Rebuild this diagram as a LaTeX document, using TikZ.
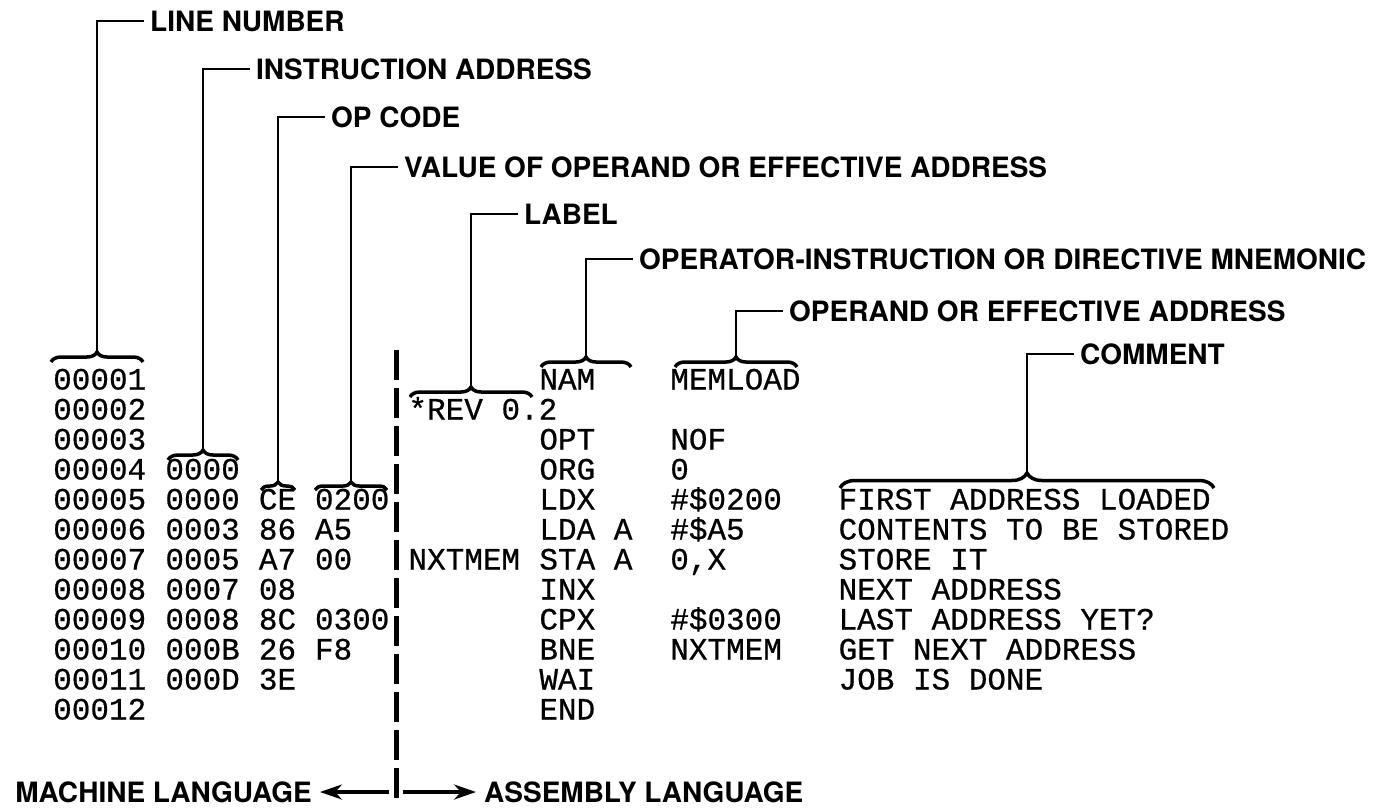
\documentclass[tikz,border=0pt]{standalone}
\usepackage{fontspec}
\setmainfont{TeX Gyre Heros}
\newfontfamily\lstfont[FakeBold=0.6]{Liberation Mono}
\usetikzlibrary{arrows.meta, decorations.pathreplacing}

\begin{document}
\begin{tikzpicture}[
    x=1pt, y=-1pt,
    tag/.style={font=\fontsize{28}{30}\selectfont\bfseries, anchor=west, inner xsep=6pt, inner ysep=0pt},
    lst/.style={font=\lstfont\fontsize{31}{33}\selectfont, anchor=base west, inner sep=0pt},
    brc/.style={decorate, decoration={brace, amplitude=#1}, line width=3.5pt},
    brc/.default=10pt,
    lead/.style={line width=2.2pt},
    side/.style={-{Stealth[length=22pt, width=15pt]}, line width=4pt}
]
\useasboundingbox (0,0) rectangle (1399,809);

% Listing (column c at x = 53 + 18.7 c, row r baseline at 389.5 + 30 (r-1))
\foreach \r in {1,...,12}
  \node[lst] (ln\r) at (53, {389.5+30*(\r-1)}) {\ifnum\r<10 0000\r\else 000\r\fi};
\foreach \r/\t in {4/0000, 5/0000, 6/0003, 7/0005, 8/0007, 9/0008, 10/000B, 11/000D}
  \node[lst] (ad\r) at (165.2, {389.5+30*(\r-1)}) {\t};
\foreach \r/\t in {5/CE, 6/86, 7/A7, 8/08, 9/8C, 10/26, 11/3E}
  \node[lst] (op\r) at (258.7, {389.5+30*(\r-1)}) {\t};
\foreach \r/\t in {5/0200, 6/A5, 7/00, 9/0300, 10/F8}
  \node[lst] (va\r) at (314.8, {389.5+30*(\r-1)}) {\t};
\foreach \r/\t in {2/*REV 0.2, 7/NXTMEM}
  \node[lst] (lb\r) at (408.3, {389.5+30*(\r-1)}) {\t};
\foreach \r/\t in {1/NAM, 3/OPT, 4/ORG, 5/LDX, 6/LDA A, 7/STA A, 8/INX, 9/CPX, 10/BNE, 11/WAI, 12/END}
  \node[lst] (mn\r) at (539.2, {389.5+30*(\r-1)}) {\t};
\foreach \r/\t in {1/MEMLOAD, 3/NOF, 4/0, 5/\#\$0200, 6/\#\$A5, 7/{0,X}, 9/\#\$0300, 10/NXTMEM}
  \node[lst] (od\r) at (670.1, {389.5+30*(\r-1)}) {\t};
\foreach \r/\t in {5/FIRST ADDRESS LOADED, 6/CONTENTS TO BE STORED, 7/STORE IT, 8/NEXT ADDRESS,
                   9/LAST ADDRESS YET?, 10/GET NEXT ADDRESS, 11/JOB IS DONE}
  \node[lst] (cm\r) at (838.4, {389.5+30*(\r-1)}) {\t};

% Braces over the fields
\draw[brc] (51,362) -- (143,362);   \coordinate (tLn) at (97,352);
\draw[brc] (168,460) -- (238,460);  \coordinate (tAd) at (203,450);
\draw[brc=8pt] (261,490) -- (295,490); \coordinate (tOp) at (278,482);
\draw[brc=8pt] (315,490) -- (387,490); \coordinate (tVa) at (351,482);
\draw[brc] (410,397) -- (532,397);  \coordinate (tLb) at (471,387);
\draw[brc] (541,367) -- (631,367);  \coordinate (tMn) at (586,357);
\draw[brc] (675,367) -- (797,367);  \coordinate (tOd) at (736,357);
\draw[brc=15pt] (840,488) -- (1214,488); \coordinate (tCm) at (1027,473);

% Field names
\node[tag] (gLn) at (144,21)  {LINE NUMBER};
\node[tag] (gAd) at (250,69)  {INSTRUCTION ADDRESS};
\node[tag] (gOp) at (325,117) {OP CODE};
\node[tag] (gVa) at (398,167) {VALUE OF OPERAND OR EFFECTIVE ADDRESS};
\node[tag] (gLb) at (518,214) {LABEL};
\node[tag] (gMn) at (633,259) {OPERATOR-INSTRUCTION OR DIRECTIVE MNEMONIC};
\node[tag] (gOd) at (783,311) {OPERAND OR EFFECTIVE ADDRESS};
\node[tag] (gCm) at (1074,354) {COMMENT};

\draw[lead] (tLn) |- (gLn.west);
\draw[lead] (tAd) |- (gAd.west);
\draw[lead] (tOp) |- (gOp.west);
\draw[lead] (tVa) |- (gVa.west);
\draw[lead] (tLb) |- (gLb.west);
\draw[lead] (tMn) |- (gMn.west);
\draw[lead] (tOd) |- (gOd.west);
\draw[lead] (tCm) |- (gCm.west);

% Divider between the two languages
\draw[line width=5pt, dash pattern=on 30pt off 8pt] (396,350) -- (396,804);
\node[tag, anchor=east, inner xsep=8pt] (mach) at (320,792) {MACHINE LANGUAGE};
\node[tag, inner xsep=8pt] (asm) at (476,792) {ASSEMBLY LANGUAGE};
\coordinate (dl) at (389,792);
\coordinate (dr) at (403,792);
\draw[side] (dl) -- (mach);
\draw[side] (dr) -- (asm);
\end{tikzpicture}
\end{document}
